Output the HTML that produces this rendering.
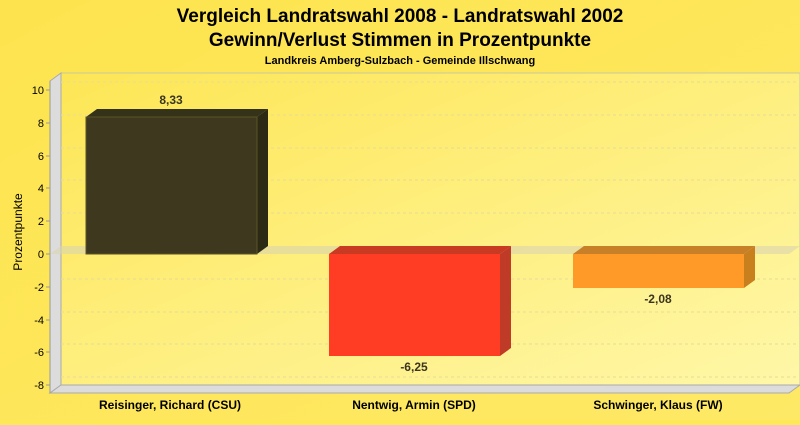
<!DOCTYPE html>
<html><head><meta charset="utf-8"><style>
body{margin:0;width:800px;height:420px;overflow:hidden;background:#fde858;font-family:"Liberation Sans",sans-serif}
</style></head><body>
<svg width="800" height="420" xmlns="http://www.w3.org/2000/svg" font-family="Liberation Sans, sans-serif">
<defs>
<linearGradient id="bg" x1="0" y1="0" x2="1" y2="1"><stop offset="0" stop-color="#fde44e"/><stop offset="1" stop-color="#fee966"/></linearGradient>
<linearGradient id="pl" x1="0" y1="0" x2="1" y2="1"><stop offset="0" stop-color="#fde655"/><stop offset="1" stop-color="#fff7a8"/></linearGradient>
</defs>
<rect width="800" height="420" fill="url(#bg)"/>
<text x="400" y="22" font-size="19" font-weight="bold" text-anchor="middle" fill="#000">Vergleich Landratswahl 2008 - Landratswahl 2002</text>
<text x="400" y="46" font-size="19" font-weight="bold" text-anchor="middle" fill="#000">Gewinn/Verlust Stimmen in Prozentpunkte</text>
<text x="400" y="64" font-size="11" font-weight="bold" text-anchor="middle" fill="#000">Landkreis Amberg-Sulzbach - Gemeinde Illschwang</text>
<rect x="61" y="73" width="739" height="312" fill="url(#pl)" stroke="#c8c8a0" stroke-width="1"/>
<polygon points="50,81 61,73 61,385 50,393" fill="#dcdcdc" stroke="#aaa" stroke-width="1"/>
<polygon points="50,393 61,385 800,385 789,393" fill="#dcdcdc" stroke="#aaa" stroke-width="1"/>
<g stroke="#e6dc96" stroke-dasharray="3,3" stroke-width="1">
<line x1="61" y1="82" x2="800" y2="82"/><line x1="61" y1="115" x2="800" y2="115"/><line x1="61" y1="148" x2="800" y2="148"/><line x1="61" y1="180" x2="800" y2="180"/><line x1="61" y1="213" x2="800" y2="213"/>
<line x1="61" y1="279" x2="800" y2="279"/><line x1="61" y1="312" x2="800" y2="312"/><line x1="61" y1="344" x2="800" y2="344"/><line x1="61" y1="377" x2="800" y2="377"/>
</g>
<polygon points="50,254 61,246 800,246 789,254" fill="#d8d4b0" opacity="0.6"/>
<line x1="50" y1="81" x2="50" y2="393" stroke="#999"/>
<g font-size="11" fill="#000" text-anchor="end">
<text x="44" y="94">10</text><text x="44" y="127">8</text><text x="44" y="160">6</text><text x="44" y="192">4</text><text x="44" y="225">2</text><text x="44" y="258">0</text><text x="44" y="291">-2</text><text x="44" y="324">-4</text><text x="44" y="356">-6</text><text x="44" y="389">-8</text>
</g>
<g stroke="#999"><line x1="46" y1="90" x2="50" y2="90"/><line x1="46" y1="123" x2="50" y2="123"/><line x1="46" y1="156" x2="50" y2="156"/><line x1="46" y1="188" x2="50" y2="188"/><line x1="46" y1="221" x2="50" y2="221"/><line x1="46" y1="254" x2="50" y2="254"/><line x1="46" y1="287" x2="50" y2="287"/><line x1="46" y1="320" x2="50" y2="320"/><line x1="46" y1="352" x2="50" y2="352"/><line x1="46" y1="385" x2="50" y2="385"/></g>
<text transform="translate(22,232) rotate(-90)" font-size="12" text-anchor="middle">Prozentpunkte</text>
<polygon points="86,117 97,109 268,109 257,117" fill="#35321a"/>
<polygon points="257,117 268,109 268,246 257,254" fill="#2c2915"/>
<rect x="86" y="117" width="171" height="137" fill="#3d381e" stroke="#5a5328" stroke-width="1"/>
<text x="171" y="104" font-size="12" font-weight="bold" text-anchor="middle" fill="#3a3520">8,33</text>
<polygon points="329,254 340,246 511,246 500,254" fill="#c83a22"/>
<polygon points="500,254 511,246 511,348 500,356" fill="#c03a28"/>
<rect x="329" y="254" width="171" height="102" fill="#ff3c24"/>
<text x="414" y="371" font-size="12" font-weight="bold" text-anchor="middle" fill="#3a3520">-6,25</text>
<polygon points="573,254 584,246 755,246 744,254" fill="#c88028"/>
<polygon points="744,254 755,246 755,280 744,288" fill="#c8801e"/>
<rect x="573" y="254" width="171" height="34" fill="#ff9a28"/>
<text x="658" y="303" font-size="12" font-weight="bold" text-anchor="middle" fill="#3a3520">-2,08</text>
<g font-size="12" font-weight="bold" text-anchor="middle">
<text x="170" y="409">Reisinger, Richard (CSU)</text><text x="414" y="409">Nentwig, Armin (SPD)</text><text x="658" y="409">Schwinger, Klaus (FW)</text>
</g>
</svg>
</body></html>
